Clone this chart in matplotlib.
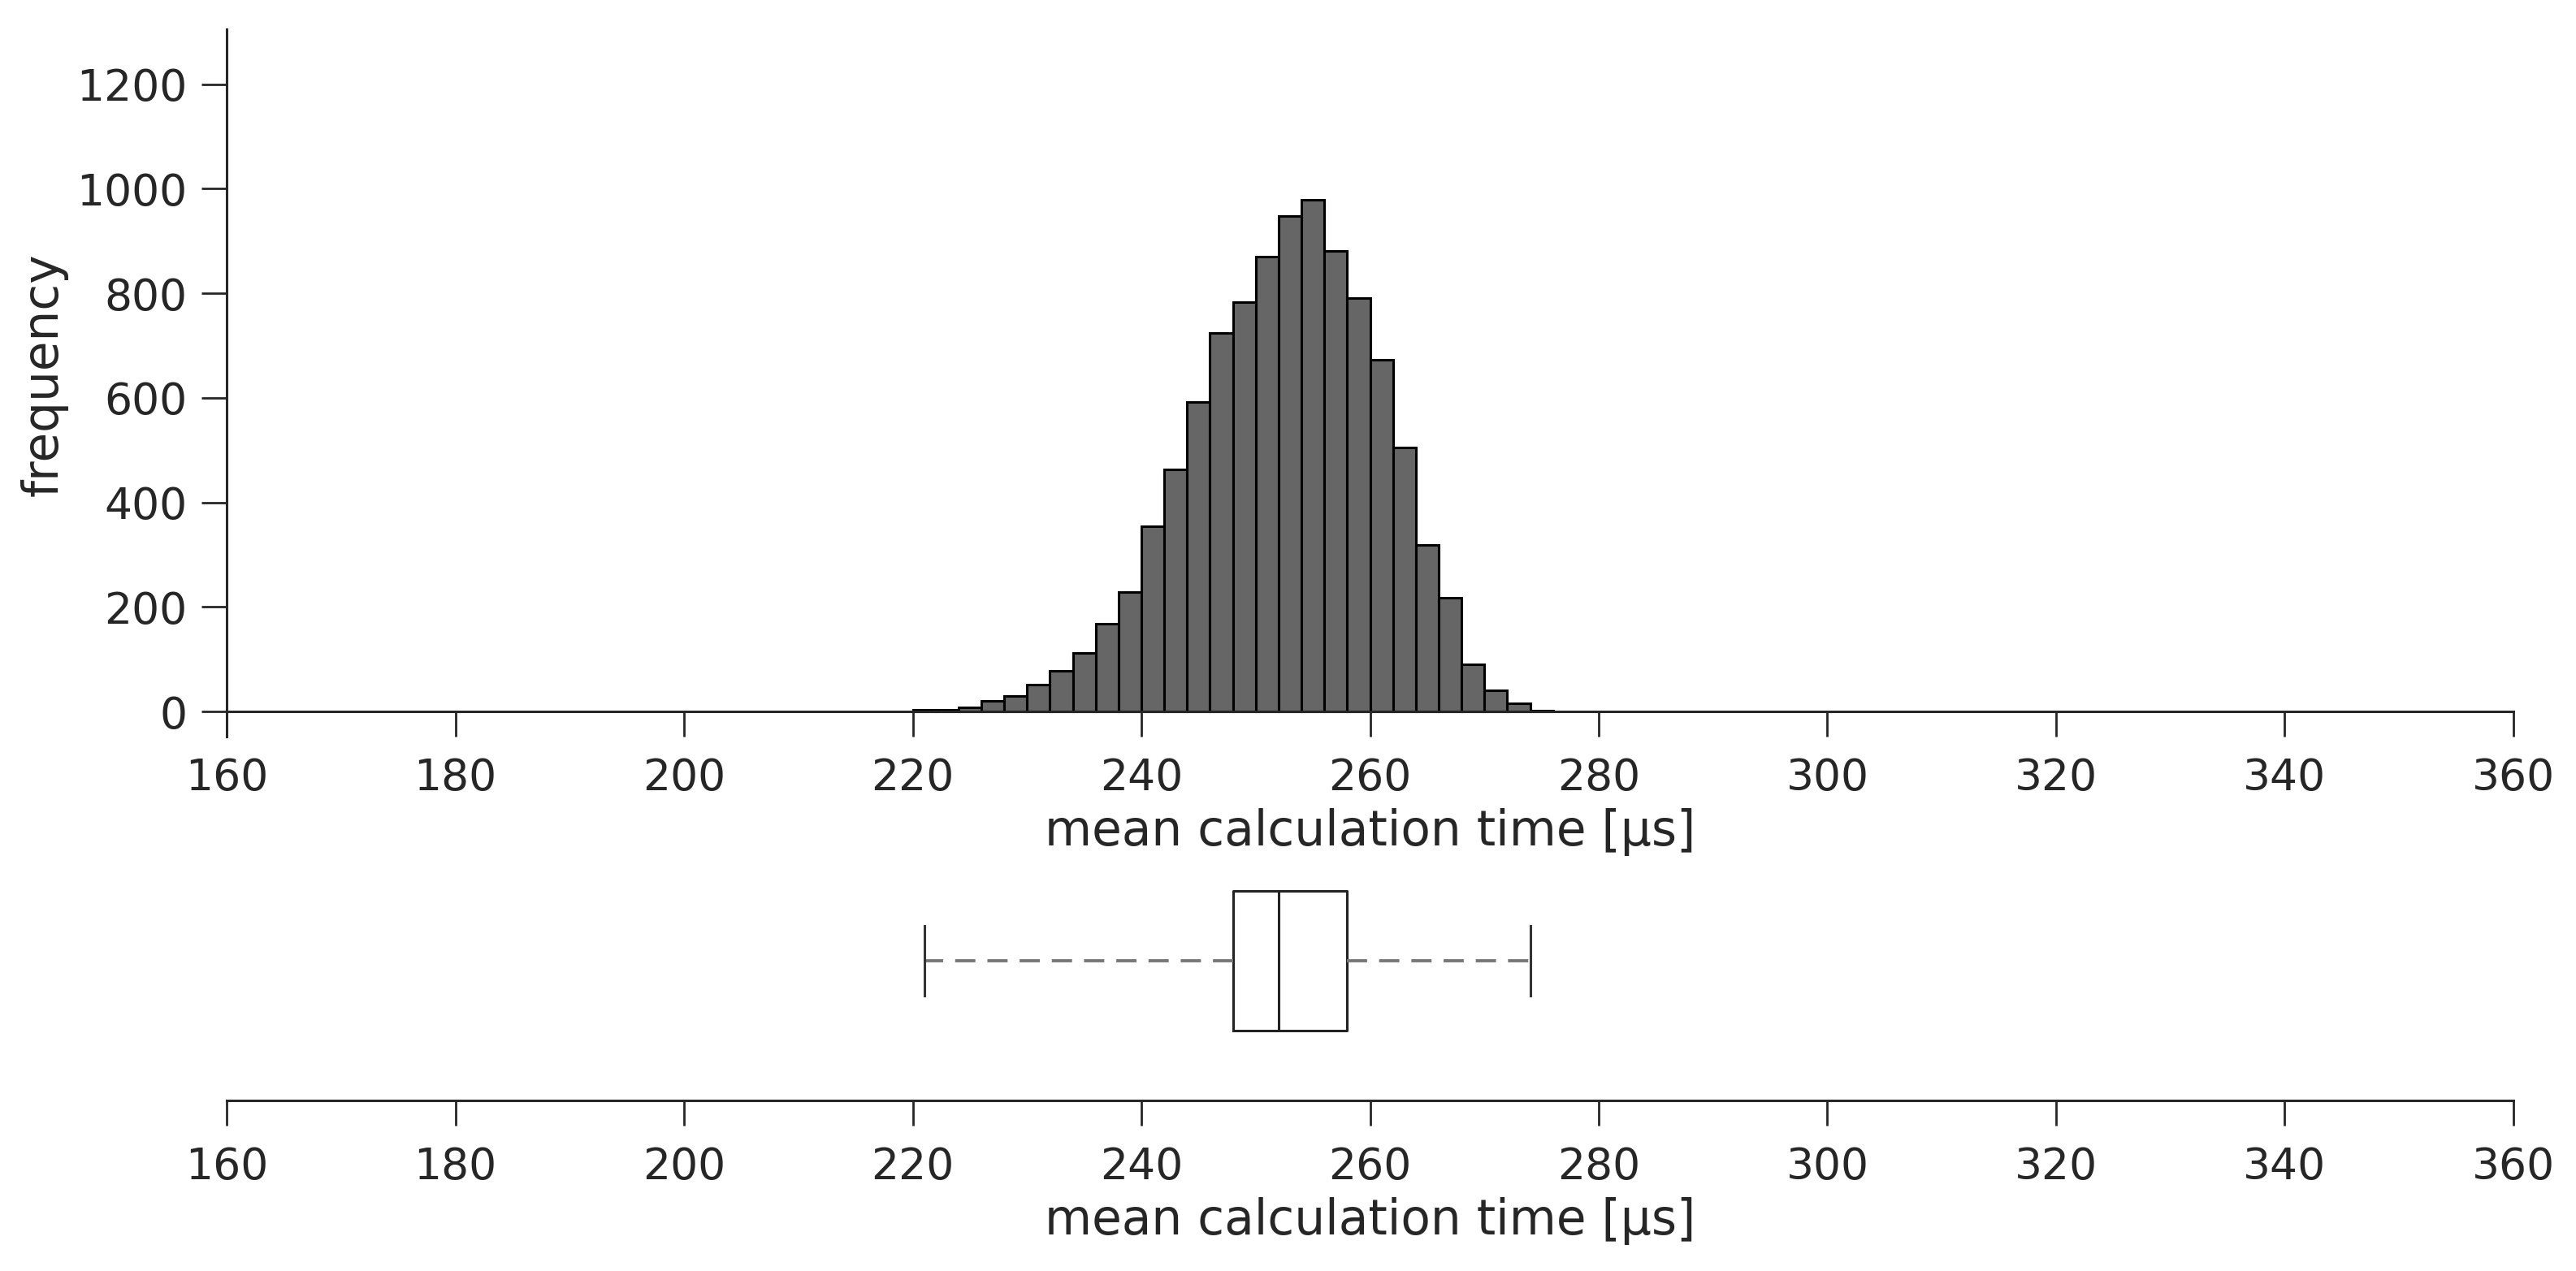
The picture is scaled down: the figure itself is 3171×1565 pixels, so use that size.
import matplotlib
matplotlib.use("Agg")
import matplotlib.pyplot as plt
import numpy as np

# ---- data ----
bin_edges = list(range(220, 278, 2))  # 2 µs bins
counts = [3, 4, 8, 20, 30, 51, 78, 112, 168, 228,
          355, 463, 592, 724, 783, 870, 948, 979, 881, 791,
          673, 505, 318, 218, 90, 40, 15, 2]
x_ticks = list(range(160, 361, 20))
y_ticks = list(range(0, 1201, 200))
box_whislo, box_q1, box_med, box_q3, box_whishi = 221, 248, 252, 258, 274
xlabel = "mean calculation time [µs]"
ylabel = "frequency"

TXT = "#262626"
plt.rcParams.update({
    "font.family": ["DejaVu Sans"],
    "text.color": TXT,
    "axes.labelcolor": TXT,
    "xtick.color": TXT,
    "ytick.color": TXT,
    "axes.edgecolor": TXT,
})

TICK_FS = 19.3
LABEL_FS = 21.5

fig = plt.figure(figsize=(3171 / 200, 1565 / 200), dpi=200)
L, R = 279 / 3171, 3094 / 3171
bx = fig.add_axes([L, 1 - 1355 / 1565, R - L, 344 / 1565])
ax = fig.add_axes([L, 1 - 907 / 1565, R - L, 871 / 1565])
ax.patch.set_visible(False)
bx.patch.set_visible(False)

# histogram
ax.hist(bin_edges[:-1], bins=bin_edges, weights=counts,
        color="#666666", edgecolor="black", linewidth=1.1)
ax.set_xlim(160, 360)
ax.set_ylim(-48, 1305)
ax.set_xticks(x_ticks)
ax.set_yticks(y_ticks)
ax.spines["top"].set_visible(False)
ax.spines["right"].set_visible(False)
ax.spines["bottom"].set_position(("data", 0))
for s in ("left", "bottom"):
    ax.spines[s].set_linewidth(1.1)
ax.tick_params(axis="x", length=11, width=1.0, labelsize=TICK_FS, pad=9)
ax.tick_params(axis="y", length=11, width=1.0, labelsize=TICK_FS, pad=6.6)
ax.set_xlabel(xlabel, fontsize=LABEL_FS, labelpad=4)
ax.set_ylabel(ylabel, fontsize=LABEL_FS)
ax.yaxis.set_label_coords(-0.0693, 0.512)

# boxplot
stats = [{"whislo": box_whislo, "q1": box_q1, "med": box_med,
          "q3": box_q3, "whishi": box_whishi, "fliers": []}]
bx.bxp(stats, positions=[1], widths=0.5, vert=False, showfliers=False,
       boxprops=dict(color="#222222", linewidth=1.1),
       medianprops=dict(color="#222222", linewidth=1.1),
       whiskerprops=dict(color="#777777", linewidth=1.4, linestyle=(0, (6.4, 3.8))),
       capprops=dict(color="#333333", linewidth=1.1))
bx.set_xlim(160, 360)
bx.set_ylim(0.5, 1.5)
bx.set_yticks([])
bx.set_xticks(x_ticks)
for s in ("top", "right", "left"):
    bx.spines[s].set_visible(False)
bx.spines["bottom"].set_linewidth(1.1)
bx.tick_params(axis="x", length=11, width=1.0, labelsize=TICK_FS, pad=9)
bx.set_xlabel(xlabel, fontsize=LABEL_FS, labelpad=4)

fig.savefig("out.png", dpi=200)
